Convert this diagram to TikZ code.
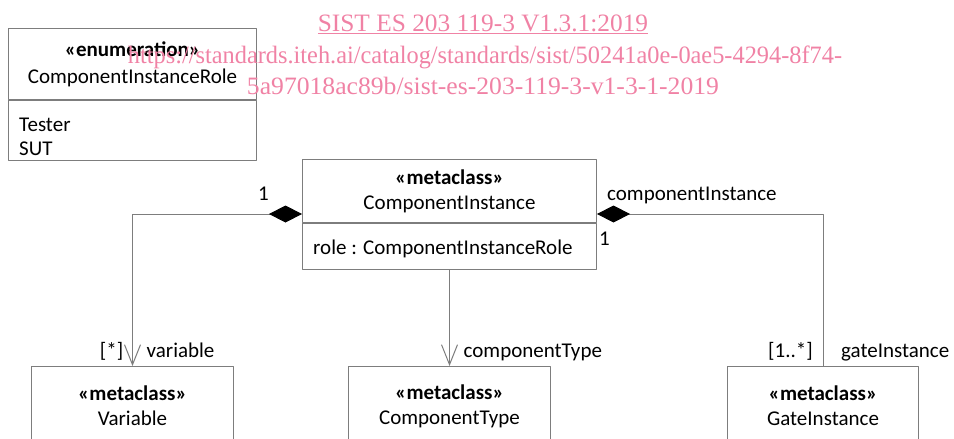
\documentclass[tikz,border=0pt]{standalone}
\usepackage{fontspec}
\setmainfont{Carlito}
\newfontfamily\wmfont{Liberation Serif}
\usetikzlibrary{arrows.meta}
\definecolor{wmpink}{RGB}{240,130,165}
\definecolor{umlgray}{RGB}{125,125,125}
\begin{document}
\begin{tikzpicture}[x=1pt,y=-1pt,line join=round,font=\fontsize{21}{25}\selectfont,
	box/.style={draw=umlgray,line width=1pt,anchor=north west,inner sep=0pt,align=center},
	conn/.style={draw=umlgray,line width=1pt},
	lbl/.style={anchor=base,inner sep=0pt},
	comp/.style={{Diamond[length=33pt,width=17pt,color=black,fill=black]}-},
	compnav/.style={{Diamond[length=33pt,width=17pt,color=black,fill=black]}-{Straight Barb[length=20pt,width=16pt]}},
	nav/.style={-{Straight Barb[length=20pt,width=16pt]}},
	wm/.style={anchor=base,inner sep=0pt,text=wmpink,font=\wmfont\fontsize{25}{30}\selectfont}]
	\useasboundingbox (0,0) rectangle (954,439);
	\clip (0,0) rectangle (954,439);
	\node[box,minimum width=248pt,minimum height=71pt,font=\fontsize{21}{27}\selectfont] (roleHead) at (8,28) {\textbf{«enumeration»}\\ComponentInstanceRole};
	\node[box,minimum width=248pt,minimum height=60pt] (roleBody) at (roleHead.south west) {};
	\node[anchor=west,inner sep=0pt,align=left,font=\fontsize{21}{24}\selectfont] (roleLits) at ([xshift=11pt,yshift=-6pt]roleBody.west) {Tester\\SUT};
	\node[box,minimum width=294pt,minimum height=63pt] (ciHead) at (302,159) {\textbf{«metaclass»}\\ComponentInstance};
	\node[box,minimum width=294pt,minimum height=46pt] (ciBody) at (ciHead.south west) {};
	\node[anchor=west,inner sep=0pt] (ciRole) at ([xshift=11pt,yshift=-2pt]ciBody.west) {role : ComponentInstanceRole};
	\node[box,minimum width=202pt,minimum height=79pt] (var) at (31,366) {\textbf{«metaclass»}\\Variable};
	\node[box,minimum width=202pt,minimum height=79pt] (ctype) at (348,366) {\textbf{«metaclass»}\\ComponentType};
	\node[box,minimum width=191pt,minimum height=79pt] (gate) at (727,366) {\textbf{«metaclass»}\\GateInstance};
	\draw[conn,compnav] ([yshift=9pt]ciHead.south west) -| (var.north);
	\draw[conn,nav] (ciBody.south) -- (ctype.north);
	\draw[conn,comp] ([yshift=9pt]ciHead.south east) -| (gate.north);
	\node[lbl,anchor=base east] (varOwnMult) at ([xshift=-33pt,yshift=23pt]ciHead.south west) {1};
	\node[lbl,anchor=base west] (gateOwnName) at ([xshift=10pt,yshift=23pt]ciHead.south east) {componentInstance};
	\node[lbl,anchor=base west] (gateOwnMult) at ([xshift=2pt,yshift=-22pt]ciHead.south east) {1};
	\node[lbl,anchor=base east] (varMult) at ([xshift=-9pt,yshift=9pt]var.north) {[*]};
	\node[lbl,anchor=base west] (varName) at ([xshift=14pt,yshift=9pt]var.north) {variable};
	\node[lbl,anchor=base west] (ctypeName) at ([xshift=14pt,yshift=9pt]ctype.north) {componentType};
	\node[lbl,anchor=base east] (gateMult) at ([xshift=-10pt,yshift=9pt]gate.north) {[1..*]};
	\node[lbl,anchor=base west] (gateName) at ([xshift=18pt,yshift=9pt]gate.north) {gateInstance};
	\node[wm] (wmTitle) at (483,31) {\scalebox{1.015}[1]{\underline{SIST ES 203 119-3 V1.3.1:2019}}};
	\node[wm] (wmUrlA) at (485,63) {\scalebox{0.974}[1]{https://standards.iteh.ai/catalog/standards/sist/50241a0e-0ae5-4294-8f74-}};
	\node[wm] (wmUrlB) at (483,94) {\scalebox{1.026}[1]{5a97018ac89b/sist-es-203-119-3-v1-3-1-2019}};
\end{tikzpicture}
\end{document}
